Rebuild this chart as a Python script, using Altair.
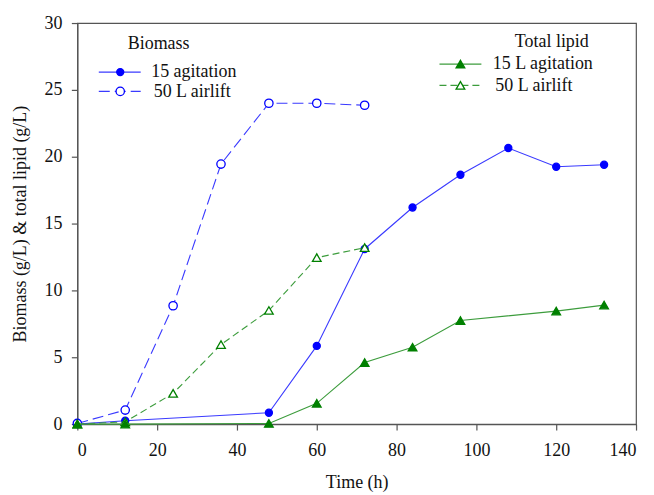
import altair as alt
import pandas as pd

# ---- data ----
t_bio15 = [0, 12, 48, 60, 72, 84, 96, 108, 120, 132]
bio15 = [0.0, 0.25, 0.85, 5.85, 13.1, 16.2, 18.65, 20.65, 19.25, 19.4]
t_bio50 = [0, 12, 24, 36, 48, 60, 72]
bio50 = [0.05, 1.05, 8.85, 19.45, 24.0, 24.0, 23.85]
t_lip15 = [0, 12, 48, 60, 72, 84, 96, 120, 132]
lip15 = [0.0, 0.0, 0.05, 1.55, 4.6, 5.75, 7.75, 8.45, 8.9]
t_lip50 = [0, 12, 24, 36, 48, 60, 72]
lip50 = [0.0, 0.17, 2.3, 5.95, 8.5, 12.45, 13.2]

x_ticks = [0, 20, 40, 60, 80, 100, 120, 140]
y_ticks = [0, 5, 10, 15, 20, 25, 30]

FONT = "Liberation Serif"
BLUE = "#0000ff"
BLUE_L = "#3a3aff"
GREEN = "#008000"
GREEN_L = "#3c9c3c"

def frame(ts, vs):
    return pd.DataFrame({"t": ts, "v": vs})

X = alt.X("t:Q", scale=alt.Scale(domain=[0, 140], nice=False),
          axis=alt.Axis(values=x_ticks, title="Time (h)", labelPadding=11, titlePadding=15))
Y = alt.Y("v:Q", scale=alt.Scale(domain=[0, 30], nice=False),
          axis=alt.Axis(values=y_ticks, title="Biomass (g/L)  & total lipid (g/L)",
                        labelPadding=9.5, titlePadding=14))

def series(df, line_color, dash, shape, fill, marker_color, size):
    base = alt.Chart(df).encode(x=X, y=Y)
    line_kw = dict(color=line_color, strokeWidth=1.1)
    if dash:
        line_kw["strokeDash"] = dash
    ln = base.mark_line(**line_kw)
    pt = base.mark_point(shape=shape, fill=fill, stroke=marker_color,
                         strokeWidth=1.3, size=size, opacity=1, filled=False)
    return ln + pt

s_bio15 = series(frame(t_bio15, bio15), BLUE_L, None, "circle", BLUE, BLUE, 50)
s_bio50 = series(frame(t_bio50, bio50), BLUE_L, [11, 5], "circle", "white", BLUE, 70)
s_lip15 = series(frame(t_lip15, lip15), GREEN_L, None, "triangle-up", GREEN, GREEN, 75)
s_lip50 = series(frame(t_lip50, lip50), GREEN_L, [7, 4], "triangle-up", "white", GREEN, 75)

# ---- legends (pixel positions inside plot area) ----
one = pd.DataFrame({"a": [0]})

def leg_text(txt, x, y, align="left"):
    return alt.Chart(one).mark_text(text=txt, font=FONT, fontSize=18, align=align,
                                    baseline="middle", color="#111").encode(
        x=alt.value(x), y=alt.value(y))

def leg_line(x1, x2, y, color, dash=None):
    kw = dict(color=color, strokeWidth=1.1)
    if dash:
        kw["strokeDash"] = dash
    return alt.Chart(one).mark_rule(**kw).encode(
        x=alt.value(x1), x2=alt.value(x2), y=alt.value(y))

def leg_pt(x, y, shape, fill, color, size):
    return alt.Chart(one).mark_point(shape=shape, fill=fill, stroke=color, strokeWidth=1.3,
                                     size=size, opacity=1, filled=False).encode(
        x=alt.value(x), y=alt.value(y))

legend_layers = [
    leg_text("Biomass", 50.5, 21),
    leg_line(21.5, 63.5, 49.2, BLUE_L),
    leg_pt(43, 49.2, "circle", BLUE, BLUE, 50),
    leg_text("15 agitation", 74, 49.5),
    leg_line(21.5, 63.5, 68.5, BLUE_L, [11, 5]),
    leg_pt(43, 68.5, "circle", "white", BLUE, 70),
    leg_text("50 L airlift", 76.5, 69),
    leg_text("Total lipid", 438.5, 19),
    leg_line(363, 405, 41.2, GREEN_L),
    leg_pt(384, 41.2, "triangle-up", GREEN, GREEN, 75),
    leg_text("15 L agitation", 416.5, 41.5),
    leg_line(363, 405, 62.5, GREEN_L, [7, 4]),
    leg_pt(384, 62.5, "triangle-up", "white", GREEN, 75),
    leg_text("50 L airlift", 419, 63),
]

chart = alt.layer(s_bio15, s_bio50, s_lip50, s_lip15, *legend_layers).properties(
    width=560, height=402,
    autosize=alt.AutoSizeParams(type="none"),
    padding={"left": 69.5, "top": 14.5, "right": 10, "bottom": 70},
).configure_view(stroke="#555", strokeWidth=1.2).configure_axis(
    grid=False, domainColor="#555", domainWidth=1.2, tickColor="#555", tickWidth=1.2,
    tickSize=6, labelFont=FONT, labelFontSize=18, labelColor="#111",
    titleFont=FONT, titleFontSize=18, titleColor="#111", titleFontWeight="normal",
)

chart.save("out.html", embed_options={"renderer": "svg", "actions": False})
